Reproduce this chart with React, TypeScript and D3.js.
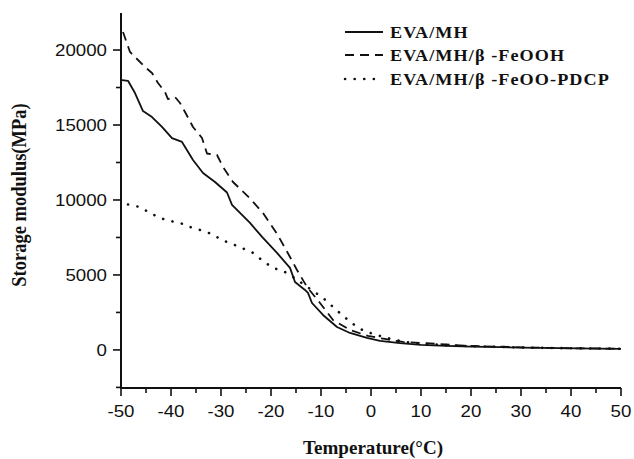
import React from "react";
import * as d3 from "d3";

const seriesNames = ["EVA/MH", "EVA/MH/β -FeOOH", "EVA/MH/β -FeOO-PDCP"];

const mhTemp = [-49.8, -48.6, -47.2, -45.6, -43.8, -41.8, -39.8, -37.8, -35.6, -33.6, -31.2, -28.8, -27.8, -24.2, -21.6, -18.8, -16.2, -15.2, -13.2, -12.6, -11.8, -9.6, -6.8, -4.2, -0.8, 1.8, 5.8, 10, 15, 20, 26, 30, 38, 45, 50];
const mhVal = [18000, 17950, 17130, 15930, 15530, 14870, 14130, 13870, 12670, 11800, 11200, 10500, 9670, 8470, 7470, 6470, 5470, 4530, 4000, 3800, 3130, 2330, 1530, 1130, 800, 600, 450, 330, 270, 220, 180, 150, 120, 90, 70];

const feTemp = [-49.6, -48.2, -45.2, -43.8, -42.6, -41.2, -40.6, -39.2, -38.2, -37.2, -35.6, -33.8, -32.8, -30.8, -29.6, -27.6, -24.2, -21.6, -18.8, -16.2, -14.8, -12.8, -10.2, -7.6, -4.2, -0.6, 2.8, 6.4, 9.8, 13.2, 16.4, 20, 30, 40, 50];
const feVal = [21200, 19870, 18870, 18470, 17800, 17200, 16730, 16870, 16470, 15870, 14870, 14130, 13100, 13000, 12200, 11200, 10100, 9130, 7750, 6200, 5330, 4200, 3130, 2000, 1330, 930, 730, 530, 470, 400, 330, 270, 170, 110, 80];

const pdcpTemp = [-48.6, -46.2, -44.2, -42.2, -40.2, -38.2, -36.2, -34.2, -31.8, -29.8, -27.8, -25.8, -23.6, -21.6, -19.6, -17.6, -15.6, -11.6, -9.6, -7.6, -5.6, -3.6, -1.6, 0.4, 2.4, 4.8, 6.8, 10, 15, 20, 30, 40, 50];
const pdcpVal = [9700, 9530, 9130, 8800, 8600, 8470, 8200, 8000, 7730, 7330, 7070, 6800, 6470, 5930, 5470, 5270, 4870, 3930, 3470, 2870, 2270, 1730, 1300, 1070, 870, 670, 530, 420, 320, 250, 160, 110, 80];

const xTicks = [-50, -40, -30, -20, -10, 0, 10, 20, 30, 40, 50];
const xMinor = [-45, -35, -25, -15, -5, 5, 15, 25, 35, 45];
const yTicks = [0, 5000, 10000, 15000, 20000];
const yMinor = [-2500, 2500, 7500, 12500, 17500];

export default function App() {
  const left = 121, right = 621, top = 13, bottom = 388;
  const x = d3.scaleLinear().domain([-50, 50]).range([left, right]);
  const y = d3.scaleLinear().domain([-2540, 22470]).range([bottom, top]);
  const line = d3.line<[number, number]>().x(d => x(d[0])).y(d => y(d[1]));
  const mk = (t: number[], v: number[]) => line(t.map((tt, i) => [tt, v[i]] as [number, number])) || "";
  const styles = [
    { dash: undefined as string | undefined, w: 1.8, cap: "butt" },
    { dash: "9 6", w: 1.8, cap: "butt" },
    { dash: "0.1 9.5", w: 2.6, cap: "round" },
  ];
  const paths = [mk(mhTemp, mhVal), mk(feTemp, feVal), mk(pdcpTemp, pdcpVal)];
  const legendY = [32, 55, 79];
  const sans = "Liberation Sans, Arial, sans-serif";
  const serif = "Liberation Serif, Times New Roman, serif";
  return (
    <svg width={634} height={459} style={{ position: "absolute", left: 0, top: 0, background: "#fff" }}>
      <rect width={634} height={459} fill="#fff" />
      {paths.map((p, i) => (
        <path key={i} d={p} fill="none" stroke="#111" strokeWidth={styles[i].w}
          strokeDasharray={styles[i].dash} strokeLinecap={styles[i].cap as any} strokeLinejoin="round" />
      ))}
      <line x1={left} x2={left} y1={top} y2={bottom + 1} stroke="#111" strokeWidth={2} />
      <line x1={left - 1} x2={right} y1={bottom} y2={bottom} stroke="#111" strokeWidth={2} />
      {yTicks.map(v => (
        <g key={v}>
          <line x1={left - 8} x2={left} y1={y(v)} y2={y(v)} stroke="#111" strokeWidth={1.6} />
          <text transform={`translate(${left - 14},${y(v)}) scale(1.1,1)`} dy="0.36em" textAnchor="end" fontFamily={sans} fontSize={17} fill="#111">{v}</text>
        </g>
      ))}
      {yMinor.map(v => (
        <line key={v} x1={left - 5} x2={left} y1={y(v)} y2={y(v)} stroke="#111" strokeWidth={1.6} />
      ))}
      {xTicks.map(v => (
        <g key={v}>
          <line x1={x(v)} x2={x(v)} y1={bottom} y2={bottom + 8} stroke="#111" strokeWidth={1.6} />
          <text transform={`translate(${x(v)},417) scale(1.1,1)`} textAnchor="middle" fontFamily={sans} fontSize={17} fill="#111">{v}</text>
        </g>
      ))}
      {xMinor.map(v => (
        <line key={v} x1={x(v)} x2={x(v)} y1={bottom} y2={bottom + 5} stroke="#111" strokeWidth={1.6} />
      ))}
      <text transform="translate(373,454) scale(1.06,1)" textAnchor="middle" fontFamily={serif} fontWeight="bold" fontSize={18} fill="#111">Temperature(°C)</text>
      <text transform="translate(26,195) rotate(-90) scale(1,1.1)" textAnchor="middle" fontFamily={serif} fontWeight="bold" fontSize={18.5} fill="#111">Storage modulus(MPa)</text>
      {seriesNames.map((n, i) => (
        <g key={n}>
          <line x1={345} x2={383} y1={legendY[i]} y2={legendY[i]} stroke="#111" strokeWidth={styles[i].w}
            strokeDasharray={styles[i].dash} strokeLinecap={styles[i].cap as any} />
          <text transform={`translate(390,${legendY[i]}) scale(1.07,1)`} dy="0.35em" fontFamily={serif} fontWeight="bold" fontSize={17} letterSpacing={1} fill="#111">{n}</text>
        </g>
      ))}
    </svg>
  );
}
